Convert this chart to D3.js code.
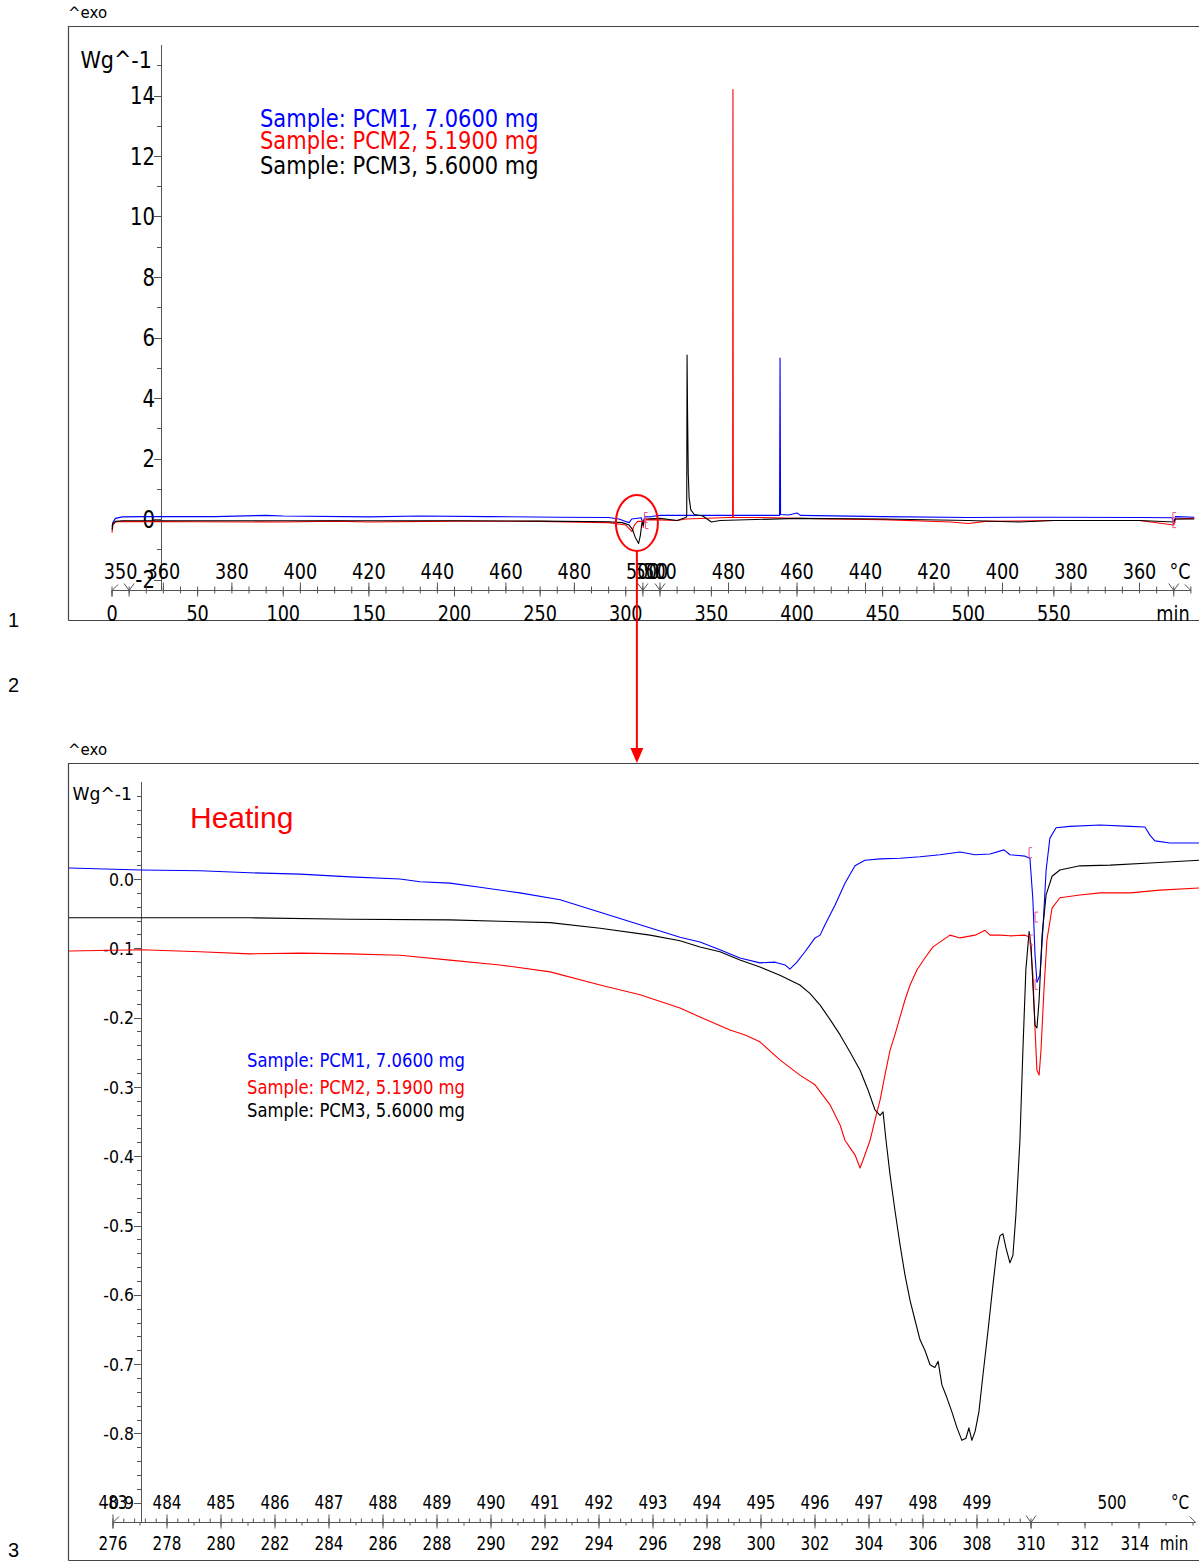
<!DOCTYPE html>
<html><head><meta charset="utf-8">
<script src="https://cdn.jsdelivr.net/npm/d3@7"></script>
<style>
body{margin:0;background:#fff}
svg{display:block}
text{font-family:"DejaVu Sans",Verdana,sans-serif;fill:#000}
</style>
</head><body>
<svg id="c" width="1199" height="1562"></svg>
<script>
// ================= DATA =================
const seriesLabels = ["Sample: PCM1, 7.0600 mg", "Sample: PCM2, 5.1900 mg", "Sample: PCM3, 5.6000 mg"];
const seriesColors = ["#0000ff", "#ff0000", "#000000"];

// Overview (whole run): [time min, Wg^-1]
const pcm1Full = [[0,-0.25],[0.5,-0.12],[2,0.02],[6,0.07],[20,0.08],[60,0.08],[90,0.12],[100,0.1],[150,0.07],[180,0.1],[220,0.08],[260,0.06],[290,0.05],[296,0.0],[300,-0.08],[302,-0.12],[303.5,0.0],[309,0.04],[310.2,-0.15],[311,0.07],[315,0.08],[320,0.12],[340,0.12],[360,0.12],[389.8,0.12],[390.1,5.32],[390.4,0.15],[395,0.13],[400,0.2],[402,0.12],[450,0.08],[500,0.05],[550,0.06],[600,0.05],[619,0.04],[620,-0.15],[621,0.08],[632,0.06]];
const pcm2Full = [[0,-0.45],[0.5,-0.2],[2,-0.1],[6,-0.08],[50,-0.09],[100,-0.1],[130,-0.07],[150,-0.1],[200,-0.07],[250,-0.08],[290,-0.12],[300,-0.2],[303.7,-0.42],[305,-0.2],[307,-0.08],[310,-0.08],[310.2,-0.28],[310.6,-0.03],[315,-0.02],[330,-0.05],[335,0.0],[360,0.05],[362.4,0.05],[362.6,14.2],[362.8,0.05],[380,0.05],[420,0.0],[450,-0.02],[490,-0.1],[500,-0.15],[510,-0.08],[550,-0.05],[600,-0.05],[620,-0.2],[621,0.0],[632,0.02]];
const pcm3Full = [[0,-0.35],[0.5,-0.15],[2,-0.08],[6,-0.06],[100,-0.06],[200,-0.06],[250,-0.07],[290,-0.09],[298,-0.12],[302,-0.2],[304,-0.35],[305.5,-0.6],[307.5,-0.81],[308.5,-0.55],[309.5,-0.1],[310.2,-0.21],[311,0.0],[320,0.02],[330,-0.05],[335,0.05],[335.6,0.08],[335.8,5.42],[336.1,3.5],[336.5,1.5],[337,0.7],[338,0.3],[340,0.15],[345,0.1],[350,-0.1],[355,-0.05],[400,0.02],[450,0.0],[500,-0.05],[530,-0.1],[550,-0.05],[600,-0.05],[620,-0.1],[621,0.0],[632,0.0]];

// Heating detail: [time min, Wg^-1]
const pcm1Heat = [[274.33,0.016],[277.04,0.013],[279.22,0.012],[281.07,0.009],[282.93,0.007],[284.78,0.003],[286.63,0.0],[287.37,-0.004],[288.48,-0.006],[289.59,-0.012],[291.07,-0.02],[292.56,-0.03],[294.04,-0.048],[295.52,-0.066],[297.0,-0.084],[297.74,-0.091],[298.48,-0.102],[299.22,-0.114],[299.96,-0.121],[300.52,-0.12],[300.89,-0.124],[301.07,-0.13],[301.33,-0.12],[301.63,-0.105],[302.0,-0.085],[302.19,-0.081],[302.37,-0.066],[302.74,-0.038],[303.11,-0.006],[303.48,0.019],[303.85,0.027],[304.41,0.029],[305.15,0.03],[305.89,0.032],[306.63,0.035],[307.37,0.039],[307.93,0.035],[308.48,0.036],[309.0,0.042],[309.22,0.035],[309.78,0.033],[309.96,0.03],[310.07,-0.03],[310.15,-0.11],[310.22,-0.149],[310.33,-0.139],[310.44,-0.074],[310.56,0.013],[310.7,0.059],[310.93,0.074],[311.44,0.076],[312.56,0.078],[313.67,0.076],[314.22,0.075],[314.41,0.063],[314.59,0.055],[315.15,0.052],[316.22,0.052]];
const pcm2Heat = [[274.33,-0.104],[277.04,-0.102],[279.22,-0.105],[281.07,-0.108],[282.93,-0.107],[284.78,-0.108],[286.63,-0.11],[288.48,-0.117],[290.33,-0.124],[292.19,-0.134],[294.04,-0.153],[295.52,-0.167],[297.0,-0.186],[297.74,-0.199],[298.85,-0.218],[299.41,-0.225],[299.96,-0.235],[300.7,-0.261],[301.44,-0.283],[302.0,-0.297],[302.56,-0.326],[302.93,-0.355],[303.11,-0.377],[303.3,-0.388],[303.48,-0.398],[303.67,-0.417],[303.85,-0.398],[304.04,-0.377],[304.22,-0.348],[304.41,-0.319],[304.59,-0.283],[304.78,-0.247],[304.96,-0.225],[305.15,-0.199],[305.33,-0.175],[305.52,-0.153],[305.78,-0.131],[306.07,-0.114],[306.37,-0.098],[307.0,-0.081],[307.37,-0.085],[307.93,-0.081],[308.3,-0.074],[308.48,-0.081],[308.85,-0.081],[309.22,-0.082],[309.78,-0.081],[309.96,-0.084],[310.07,-0.139],[310.15,-0.218],[310.22,-0.276],[310.3,-0.283],[310.37,-0.247],[310.48,-0.16],[310.59,-0.088],[310.78,-0.042],[311.07,-0.027],[311.81,-0.023],[312.56,-0.02],[313.67,-0.02],[314.78,-0.016],[316.22,-0.013]];
const pcm3Heat = [[274.33,-0.056],[277.04,-0.056],[281.07,-0.056],[284.78,-0.058],[288.48,-0.059],[290.33,-0.061],[292.19,-0.063],[294.04,-0.071],[295.89,-0.081],[297.0,-0.089],[297.74,-0.098],[298.48,-0.105],[299.22,-0.117],[299.96,-0.127],[300.7,-0.139],[301.44,-0.153],[301.81,-0.165],[302.19,-0.182],[302.56,-0.203],[302.93,-0.225],[303.3,-0.25],[303.67,-0.276],[303.96,-0.304],[304.22,-0.333],[304.41,-0.341],[304.52,-0.336],[304.63,-0.377],[304.78,-0.427],[304.96,-0.478],[305.15,-0.528],[305.33,-0.571],[305.52,-0.608],[305.7,-0.636],[305.89,-0.665],[306.07,-0.68],[306.26,-0.701],[306.44,-0.705],[306.56,-0.696],[306.7,-0.73],[306.89,-0.749],[307.07,-0.769],[307.26,-0.792],[307.44,-0.81],[307.59,-0.807],[307.7,-0.792],[307.81,-0.81],[307.93,-0.797],[308.07,-0.769],[308.22,-0.716],[308.41,-0.651],[308.59,-0.586],[308.74,-0.535],[308.85,-0.515],[308.96,-0.512],[309.07,-0.532],[309.22,-0.554],[309.33,-0.543],[309.44,-0.485],[309.59,-0.377],[309.7,-0.247],[309.81,-0.131],[309.93,-0.076],[310.0,-0.095],[310.07,-0.153],[310.15,-0.211],[310.22,-0.215],[310.3,-0.175],[310.41,-0.081],[310.56,-0.023],[310.78,0.004],[311.07,0.013],[311.81,0.019],[312.93,0.02],[314.41,0.023],[316.22,0.027]];

// evaluation markers (small brackets)
const markersFull = [[311,0.05],[311.5,-0.15],[619.5,0.05],[619.5,-0.12]];
const markersHeat = [[309.93,0.038],[310.15,-0.055],[309.96,-0.088],[310.15,-0.152]];

// Overview axes
const fullYTicks = [-2,0,2,4,6,8,10,12,14];
const fullYLabels = ["-2","0","2","4","6","8","10","12","14"];
const fullTimeTicks = [0,50,100,150,200,250,300,350,400,450,500,550];
const fullTempHeat = [360,380,400,420,440,460,480,500];
const fullTempCool = [500,480,460,440,420,400,380,360];
const fullTempIso = [[5,"350"],[315,"500"]];
const fullSegments = [10,310,320,620];   // temperature-program segment boundaries (min)

// Heating-detail axes
const heatYTicks = [-0.9,-0.8,-0.7,-0.6,-0.5,-0.4,-0.3,-0.2,-0.1,0.0];
const heatYLabels = ["-0.9","-0.8","-0.7","-0.6","-0.5","-0.4","-0.3","-0.2","-0.1","0.0"];
const heatTimeTicks = [276,278,280,282,284,286,288,290,292,294,296,298,300,302,304,306,308,310,312,314];
const heatTempTicks = [483,484,485,486,487,488,489,490,491,492,493,494,495,496,497,498,499];
const heatTempIso = [[313,"500"]];
const heatSegments = [310];

// ================= DRAWING =================
const svg = d3.select("#c");
function squeeze(sel, k){
  sel.each(function(){
    const w = this.getComputedTextLength();
    if (w > 0) d3.select(this).attr("textLength", w*k).attr("lengthAdjust","spacingAndGlyphs");
  });
}
const AX = "#555";

// ---------- Side numbers ----------
svg.selectAll("text.side").data([["1",620],["2",685],["3",1550]]).join("text")
  .attr("class","side").attr("x",8).attr("y",d=>d[1]).attr("dy","0.35em")
  .style("font-family","'Liberation Sans',Arial,sans-serif").style("font-size","20px").text(d=>d[0]);

// ---------- Generic chart builder ----------
function chart(cfg){
  const g = svg.append("g");
  // frame
  g.append("text").attr("x",cfg.frame[0]).attr("y",cfg.frame[1]-13).attr("dy","0.35em")
    .style("font-size","15px").text("^exo");
  g.append("path").attr("d",`M${cfg.frame[0]+0.5},${cfg.frame[3]+0.5} V${cfg.frame[1]+0.5} H1199 M${cfg.frame[0]+0.5},${cfg.frame[3]+0.5} H1199`)
    .attr("fill","none").attr("stroke","#444").attr("stroke-width",1.2);

  const x = cfg.x, y = cfg.y;
  // y axis
  g.append("line").attr("x1",cfg.yAxisX+0.5).attr("x2",cfg.yAxisX+0.5).attr("y1",cfg.yTop).attr("y2",cfg.axisY)
    .attr("stroke",AX);
  g.selectAll("line.ymin").data(cfg.yMinor).join("line").attr("class","ymin")
    .attr("x1",cfg.yAxisX-4).attr("x2",cfg.yAxisX).attr("y1",d=>Math.round(y(d))+0.5).attr("y2",d=>Math.round(y(d))+0.5).attr("stroke",AX);
  g.selectAll("line.ymaj").data(cfg.yTicks).join("line").attr("class","ymaj")
    .attr("x1",cfg.yAxisX-7).attr("x2",cfg.yAxisX).attr("y1",d=>Math.round(y(d))+0.5).attr("y2",d=>Math.round(y(d))+0.5).attr("stroke",AX);
  const yl = g.selectAll("text.ylab").data(cfg.yTicks).join("text").attr("class","ylab")
    .attr("x",cfg.yAxisX-cfg.yLabGap).attr("y",d=>y(d)).attr("dy","0.36em").attr("text-anchor","end")
    .style("font-size",cfg.yFont+"px").text((d,i)=>cfg.yLabels[i]);
  squeeze(yl, cfg.ySq);
  const u = g.append("text").attr("x",cfg.yAxisX-cfg.yLabGap+(cfg.unitDx||0)).attr("y",y(cfg.unitVal)+cfg.unitDy).attr("dy","0.36em")
    .attr("text-anchor","end").style("font-size",(cfg.unitFont||cfg.yFont)+"px").text("Wg^-1");
  squeeze(u, cfg.unitSq);

  // x axis line
  const ay = cfg.axisY + 0.5;
  g.append("line").attr("x1",x(cfg.axisStart)).attr("x2",x(cfg.axisEnd)).attr("y1",ay).attr("y2",ay).attr("stroke",AX);
  // time ticks (below)
  g.selectAll("line.tmin").data(cfg.timeMinor).join("line").attr("class","tmin")
    .attr("x1",d=>x(d)).attr("x2",d=>x(d)).attr("y1",ay).attr("y2",ay+3).attr("stroke",AX);
  g.selectAll("line.tmaj").data(cfg.timeTicks).join("line").attr("class","tmaj")
    .attr("x1",d=>x(d)).attr("x2",d=>x(d)).attr("y1",ay).attr("y2",ay+6).attr("stroke",AX);
  // temperature ticks (above)
  g.selectAll("line.Tmin").data(cfg.tempMinorT).join("line").attr("class","Tmin")
    .attr("x1",d=>x(d)).attr("x2",d=>x(d)).attr("y1",ay).attr("y2",ay-4).attr("stroke",AX);
  g.selectAll("line.Tmaj").data(cfg.tempMajorT).join("line").attr("class","Tmaj")
    .attr("x1",d=>x(d)).attr("x2",d=>x(d)).attr("y1",ay).attr("y2",ay-8).attr("stroke",AX);
  // segment markers (Y shapes) and ends
  g.selectAll("path.seg").data(cfg.segments).join("path").attr("class","seg")
    .attr("d",d=>`M${x(d)-5},${ay-7} L${x(d)},${ay} L${x(d)+5},${ay-7} M${x(d)},${ay} V${ay+6}`)
    .attr("fill","none").attr("stroke",AX);
  g.append("path").attr("d",`M${x(cfg.axisStart)+6},${ay-6} L${x(cfg.axisStart)},${ay} V${ay+6}`).attr("fill","none").attr("stroke",AX);
  g.append("path").attr("d",`M${x(cfg.axisEnd)-6},${ay-6} L${x(cfg.axisEnd)},${ay}`).attr("fill","none").attr("stroke",AX);

  const tl = g.selectAll("text.tlab").data(cfg.timeLabels).join("text").attr("class","tlab")
    .attr("x",d=>x(d)).attr("y",cfg.timeLabY).attr("dy","0.36em").attr("text-anchor","middle")
    .style("font-size",cfg.xFont+"px").text(d=>d);
  squeeze(tl, cfg.xSq);
  const Tl = g.selectAll("text.Tlab").data(cfg.tempLabels).join("text").attr("class","Tlab")
    .attr("x",d=>x(d[0])).attr("y",cfg.tempLabY).attr("dy","0.36em").attr("text-anchor","middle")
    .style("font-size",cfg.xFont+"px").text(d=>d[1]);
  squeeze(Tl, cfg.xSq);
  const cu = g.append("text").attr("x",cfg.degX).attr("y",cfg.tempLabY).attr("dy","0.36em").attr("text-anchor","middle")
    .style("font-size",cfg.xFont+"px").text("°C");
  squeeze(cu, cfg.xSq);
  const mu = g.append("text").attr("x",cfg.minX).attr("y",cfg.timeLabY).attr("dy","0.36em").attr("text-anchor","middle")
    .style("font-size",cfg.xFont+"px").text("min");
  squeeze(mu, cfg.xSq);

  // curves
  const clipId = "clip"+cfg.id;
  svg.append("clipPath").attr("id",clipId).append("rect")
    .attr("x",cfg.frame[0]+1).attr("y",cfg.frame[1]+1).attr("width",1199-cfg.frame[0]).attr("height",cfg.frame[3]-cfg.frame[1]-1);
  const line = d3.line().x(d=>x(d[0])).y(d=>y(d[1]));
  const cg = g.append("g").attr("clip-path",`url(#${clipId})`);
  cg.selectAll("path.curve").data(cfg.series).join("path").attr("class","curve")
    .attr("d",d=>line(d)).attr("fill","none").attr("stroke",(d,i)=>seriesColors[i])
    .attr("stroke-width",1.1).attr("stroke-linejoin","round");
  // markers
  cg.selectAll("path.mk").data(cfg.markers).join("path").attr("class","mk")
    .attr("d",d=>`M${x(d[0])+3},${y(d[1])-5} H${x(d[0])} V${y(d[1])+5} H${x(d[0])+3}`)
    .attr("fill","none").attr("stroke","#e8508a").attr("stroke-width",1);

  // legend
  const lg = g.selectAll("text.leg").data(seriesLabels).join("text").attr("class","leg")
    .attr("x",cfg.legX).attr("y",(d,i)=>cfg.legY[i]).attr("dy","0.36em")
    .style("font-size",cfg.legFont+"px").style("fill",(d,i)=>seriesColors[i]).text(d=>d);
  squeeze(lg, cfg.legSq);
  return g;
}

// ---------- Top chart: whole run ----------
const xT = d3.scaleLinear().domain([0,632]).range([112,112+632*1.7125]);
const yT = d3.scaleLinear().domain([-2,15]).range([579.5,65.25]);
const heatT = d3.scaleLinear().domain([350,500]).range([10,310]);
const coolT = d3.scaleLinear().domain([500,350]).range([320,620]);
const topTempLabels = [...fullTempIso.filter(d=>d[1]==="350"),
  ...fullTempHeat.map(T=>[heatT(T),String(T)]),
  ...fullTempIso.filter(d=>d[1]==="500"),
  ...fullTempCool.map(T=>[coolT(T),String(T)])];
const topTempMinor = d3.range(0,633,10);
chart({
  id:"top", frame:[68,26,1199,620], x:xT, y:yT,
  yAxisX:161, yTop:45, axisY:590,
  yTicks:fullYTicks, yLabels:fullYLabels, yMinor:d3.range(-1,16,2), yFont:24, yLabGap:6, ySq:0.82,
  unitVal:15, unitDy:-6, unitSq:0.9, unitDx:-3, unitFont:23,
  axisStart:0, axisEnd:630,
  timeTicks:fullTimeTicks, timeMinor:d3.range(0,631,10), timeLabels:fullTimeTicks,
  tempMinorT:topTempMinor, tempMajorT:[...fullTempHeat.map(heatT),...fullTempCool.map(coolT)],
  tempLabels:topTempLabels, segments:fullSegments,
  timeLabY:613, tempLabY:571, xFont:21, xSq:0.84, degX:1180, minX:1173,
  series:[pcm1Full,pcm2Full,pcm3Full], markers:markersFull,
  legX:260, legY:[118,140,165], legFont:24, legSq:0.875
});

// ---------- Bottom chart: heating detail ----------
const xB = d3.scaleLinear().domain([276,314]).range([113,1139]);
const yB = d3.scaleLinear().domain([-0.9,0.12]).range([879+0.9*693,879-0.12*693]);
const tempToTimeB = d3.scaleLinear().domain([483,500]).range([276,310]);
const bottomTempLabels = [...heatTempTicks.map(T=>[tempToTimeB(T),String(T)]), ...heatTempIso];
chart({
  id:"bot", frame:[68,763,1199,1560], x:xB, y:yB,
  yAxisX:141, yTop:782, axisY:1522,
  yTicks:heatYTicks, yLabels:heatYLabels, yMinor:d3.range(-0.9,0.121,0.02), yFont:18.5, yLabGap:7, ySq:0.85,
  unitVal:0.12, unitDy:-3, unitSq:0.93, unitDx:-2,
  axisStart:276, axisEnd:316.1,
  timeTicks:heatTimeTicks, timeMinor:d3.range(276,316.1,1), timeLabels:heatTimeTicks.filter(d=>d!==314),
  tempMinorT:d3.range(483,500.01,0.2).map(tempToTimeB), tempMajorT:heatTempTicks.map(tempToTimeB),
  tempLabels:bottomTempLabels, segments:heatSegments,
  timeLabY:1543, tempLabY:1502, xFont:19, xSq:0.8, degX:1180, minX:1174,
  series:[pcm1Heat,pcm2Heat,pcm3Heat], markers:markersHeat,
  legX:247, legY:[1060,1087,1110], legFont:19, legSq:0.865
});
// "314" label sits next to "min"
const l314 = svg.append("text").attr("x",xB(314)-4).attr("y",1543).attr("dy","0.36em").attr("text-anchor","middle")
  .style("font-size","19px").text("314");
squeeze(l314,0.8);

// "Heating" annotation
svg.append("text").attr("x",190).attr("y",817).attr("dy","0.36em")
  .style("font-family","'Liberation Sans',Arial,sans-serif").style("font-size","30px").style("fill","#ff0000").text("Heating");

// ---------- Zoom annotation: red ellipse and arrow ----------
const cx = xT(306.5), cy = yT(-0.13);
svg.append("ellipse").attr("cx",cx).attr("cy",cy).attr("rx",21).attr("ry",28)
  .attr("fill","none").attr("stroke","#ff0000").attr("stroke-width",2);
svg.append("line").attr("x1",cx).attr("x2",cx).attr("y1",cy+28).attr("y2",750)
  .attr("stroke","#ff0000").attr("stroke-width",2);
svg.append("path").attr("d",`M${cx-6.5},748 L${cx+6.5},748 L${cx},763 Z`).attr("fill","#ff0000");
</script>
</body></html>
